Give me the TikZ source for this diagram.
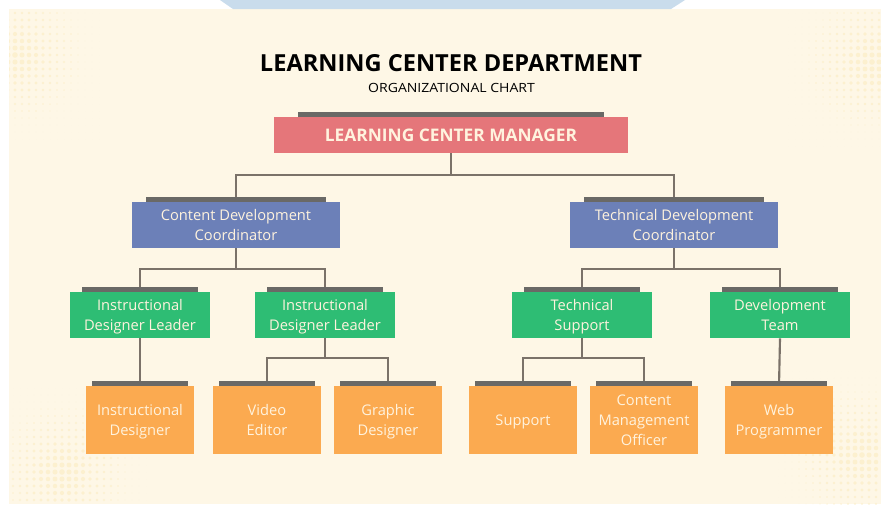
\documentclass[tikz,border=0pt]{standalone}
\usepackage{graphicx,xcolor,tikz}
\usepackage{fontspec}
\setmainfont{Open Sans}

\definecolor{bgcream}{HTML}{FEF7E6}
\definecolor{topblue}{HTML}{C9DCEC}
\definecolor{dotyellow}{HTML}{FAE8B4}
\definecolor{mgrred}{HTML}{E5767A}
\definecolor{coordblue}{HTML}{6C80B8}
\definecolor{leadgreen}{HTML}{2EBD74}
\definecolor{staffor}{HTML}{FBAA50}
\definecolor{bargray}{HTML}{6A6966}
\definecolor{linkgray}{HTML}{7B7269}
\definecolor{boxtext}{HTML}{FFF3DE}

\newcommand\boxfont{\fontsize{11}{15}\selectfont}
\newcommand\mgrfont{\fontsize{13}{15}\selectfont\bfseries}

\tikzset{
  box/.style={rectangle,inner sep=0pt,align=center,text=boxtext,font=\boxfont,text depth=0pt},
  mgrbox/.style={box,fill=mgrred,minimum width=265.5pt,minimum height=27pt,font=\mgrfont},
  coordbox/.style={box,fill=coordblue,minimum width=156pt,minimum height=34.5pt},
  leadbox/.style={box,fill=leadgreen,minimum width=105pt,minimum height=34.5pt},
  staffbox/.style={box,fill=staffor,minimum width=81pt,minimum height=51pt},
  link/.style={draw=linkgray,line width=1.6pt}
}

\begin{document}
\begin{tikzpicture}[x=0.75pt,y=-0.75pt]
\useasboundingbox (0,0) rectangle (881,504);
% background
\fill[white] (0,0) rectangle (881,504);
\fill[bgcream] (9,9) rectangle (881,504);
\fill[topblue] (220,0) -- (685,0) -- (671,9) -- (233,9) -- cycle;
% halftone corners
\begin{scope}
\clip (9,9) rectangle (881,504);
\foreach \cx/\cy in {15/55,872/62,62/472,862/455}{
  \foreach \i in {-12,...,12}{
    \foreach \j in {-12,...,12}{
      \pgfmathsetmacro\r{max(0,2.8-0.034*veclen(\i*7,\j*7))}
      \fill[dotyellow,opacity=0.45] (\cx+\i*7,\cy+\j*7) circle[radius=\r];
    }}}
\end{scope}

% title
\node (title) at (451,63.5) {\resizebox{286.5pt}{12.75pt}{\bfseries LEARNING CENTER DEPARTMENT}};
\node (subtitle) at (451.5,87.5) {\resizebox{125pt}{6.9pt}{ORGANIZATIONAL CHART}};

% boxes
\node[mgrbox] (mgr) at (451,135) {LEARNING CENTER MANAGER};
\node[coordbox] (cdc) at (236,225) {Content Development\\Coordinator};
\node[coordbox] (tdc) at (674,225) {Technical Development\\Coordinator};
\node[leadbox] (idl1) at (140,315) {Instructional\\Designer Leader};
\node[leadbox] (idl2) at (325,315) {Instructional\\Designer Leader};
\node[leadbox] (tsup) at (582,315) {Technical\\Support};
\node[leadbox] (dteam) at (780,315) {Development\\Team};
\node[staffbox] (idsg) at (140,420) {Instructional\\Designer};
\node[staffbox] (vid) at (267,420) {Video\\Editor};
\node[staffbox] (gfx) at (388,420) {Graphic\\Designer};
\node[staffbox] (sup) at (523,420) {Support};
\node[staffbox] (cmo) at (644,420) {Content\\Management\\Officer};
\node[staffbox] (web) at (779,420) {Web\\Programmer};

% links
\draw[link] (mgr.south) -- ++(0,22) -| (cdc.north);
\draw[link] (mgr.south) -- ++(0,22) -| (tdc.north);
\draw[link] (cdc.south) -- ++(0,21) -| (idl1.north);
\draw[link] (cdc.south) -- ++(0,21) -| (idl2.north);
\draw[link] (tdc.south) -- ++(0,21) -| (tsup.north);
\draw[link] (tdc.south) -- ++(0,21) -| (dteam.north);
\draw[link] (idl1.south) -- (idsg.north);
\draw[link] (idl2.south) -- ++(0,20) -| (vid.north);
\draw[link] (idl2.south) -- ++(0,20) -| (gfx.north);
\draw[link] (tsup.south) -- ++(0,20) -| (sup.north);
\draw[link] (tsup.south) -- ++(0,20) -| (cmo.north);
\draw[link] (dteam.south) -- (web.north);

% gray bars on top of the boxes
\foreach \n/\d in {mgr/24,cdc/14,tdc/14,idl1/12,idl2/12,tsup/12,dteam/12,idsg/6,vid/6,gfx/6,sup/6,cmo/6,web/6}
  \fill[bargray] ([shift={(\d,0)}]\n.north west) rectangle ([shift={(-\d,-5)}]\n.north east);
\end{tikzpicture}
\end{document}
